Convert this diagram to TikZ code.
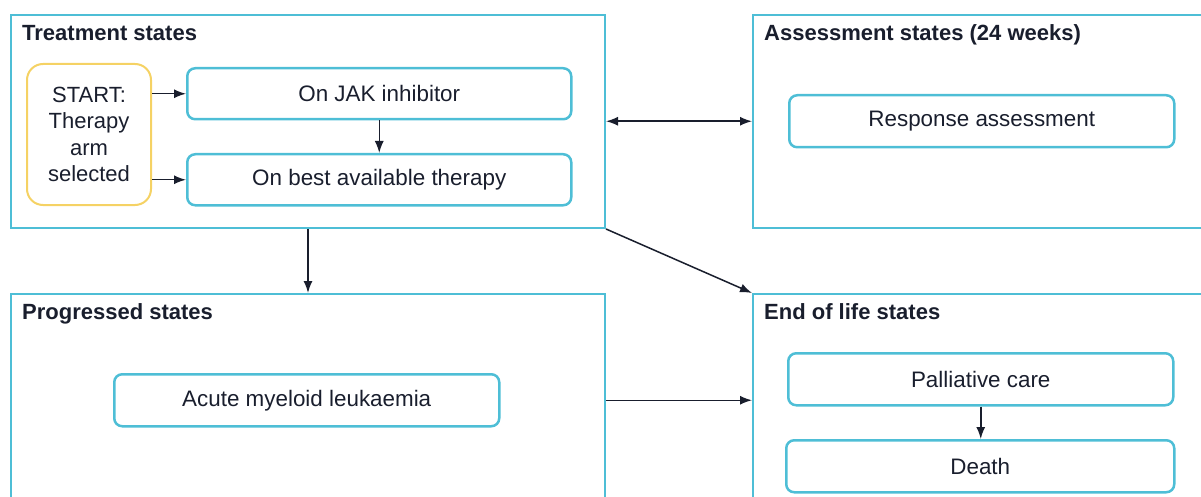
\documentclass[tikz,border=0pt]{standalone}
\usepackage{fontspec}
\setmainfont{Liberation Sans}
\usetikzlibrary{arrows.meta}
\definecolor{frame}{RGB}{78,190,214}
\definecolor{startc}{RGB}{245,210,100}
\definecolor{ink}{RGB}{25,30,45}
\begin{document}
\begin{tikzpicture}[x=1pt,y=-1pt,
  group/.style={draw=frame, line width=2pt, anchor=north west, inner sep=0pt},
  title/.style={anchor=base west, font=\fontsize{22}{26}\selectfont\bfseries, text=ink, inner sep=0pt},
  state/.style={draw=frame, line width=2.5pt, rounded corners=8pt, anchor=north west, inner sep=0pt, font=\fontsize{22.4}{26}\selectfont, text=ink},
  startbox/.style={draw=startc, line width=2pt, rounded corners=16pt, anchor=north west, inner sep=0pt, align=center, font=\fontsize{22}{26.5}\selectfont, text=ink},
  arr/.style={draw=ink, line width=1.5pt, -{Latex[length=12pt,width=9pt]}},
  dblarr/.style={draw=ink, line width=1.5pt, {Latex[length=12pt,width=9pt]}-{Latex[length=12pt,width=9pt]}},
]
\useasboundingbox (0,0) rectangle (1201,497);

% group frames
\node[group, minimum width=594pt, minimum height=213pt] (treat) at (10,14) {};
\node[group, minimum width=460pt, minimum height=213pt] (assess) at (752,14) {};
\node[group, minimum width=594pt, minimum height=230pt] (prog) at (10,293) {};
\node[group, minimum width=460pt, minimum height=230pt] (eol) at (752,293) {};

% group titles
\node[title] (ttreat) at (22,41) {Treatment states};
\node[title] (tassess) at (764,41) {Assessment states (24 weeks)};
\node[title] (tprog) at (22,319) {Progressed states};
\node[title] (teol) at (764,319) {End of life states};

% states
\node[startbox, minimum width=124pt, minimum height=141pt] (start) at (26,63) {START:\\Therapy\\arm\\selected};
\node[state, minimum width=384pt, minimum height=51pt] (jak) at (186,67) {On JAK inhibitor};
\node[state, minimum width=384pt, minimum height=51pt] (bat) at (186,153) {On best available therapy};
\node[state, minimum width=385pt, minimum height=52pt] (resp) at (788,94) {Response assessment};
\node[state, minimum width=385pt, minimum height=52pt] (aml) at (113,373) {Acute myeloid leukaemia};
\node[state, minimum width=385pt, minimum height=52pt] (pall) at (787,352) {Palliative care};
\node[state, minimum width=388pt, minimum height=52pt] (death) at (785,439) {Death};

% transitions
\draw[arr] (start.east |- jak.west) -- (jak.west);
\draw[arr] (start.east |- bat.west) -- (bat.west);
\draw[arr] (jak.south) -- (bat.north);
\draw[dblarr] (treat.east |- resp.west) -- (assess.west |- resp.west);
\draw[arr] (treat.south) -- (prog.north);
\draw[arr] (treat.south east) -- (eol.north west);
\draw[arr] (prog.east |- aml.east) -- (eol.west |- aml.east);
\draw[arr] (pall.south) -- (death.north -| pall.south);
\end{tikzpicture}
\end{document}
